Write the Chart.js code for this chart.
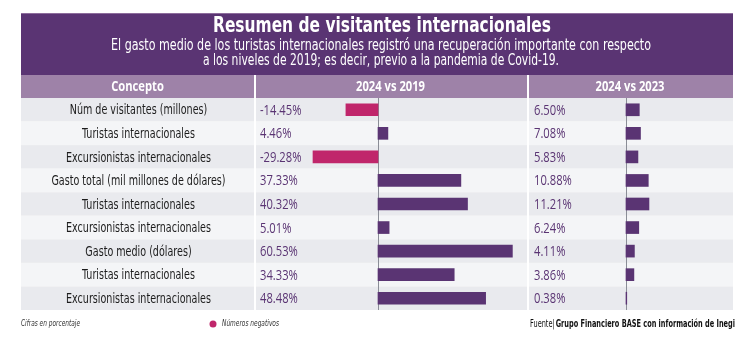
<!DOCTYPE html>
<html>
<head>
<meta charset="utf-8">
<script src="https://cdn.jsdelivr.net/npm/chart.js@4"></script>
<style>
  html, body { margin: 0; padding: 0; background: #fff; }
  #wrap { width: 750px; height: 339px; }
</style>
</head>
<body>
<div id="wrap"><canvas id="myChart" width="750" height="339"></canvas></div>
<script>
const concepts = [
  'Núm de visitantes (millones)',
  'Turistas internacionales',
  'Excursionistas internacionales',
  'Gasto total (mil millones de dólares)',
  'Turistas internacionales',
  'Excursionistas internacionales',
  'Gasto medio (dólares)',
  'Turistas internacionales',
  'Excursionistas internacionales'
];
const vs2019 = [-14.45, 4.46, -29.28, 37.33, 40.32, 5.01, 60.53, 34.33, 48.48];
const vs2023 = [6.50, 7.08, 5.83, 10.88, 11.21, 6.24, 4.11, 3.86, 0.38];
const headers = ['Concepto', '2024 vs 2019', '2024 vs 2023'];

const title = 'Resumen de visitantes internacionales';
const subtitle = [
  'El gasto medio de los turistas internacionales registró una recuperación importante con respecto',
  'a los niveles de 2019; es decir, previo a la pandemia de Covid-19.'
];

const PURPLE = '#5a3473';
const MAGENTA = '#c0266b';
const NARROW = '"DejaVu Sans Condensed", "Liberation Sans", sans-serif';

const colorFor = v => v < 0 ? MAGENTA : PURPLE;

// table geometry
const T = { left: 21, right: 733, bannerTop: 13, headTop: 75, bodyTop: 98, bodyBottom: 310, col1: 254, col2: 527 };

const fmt = v => v.toFixed(2) + '%';

// draw text squeezed horizontally (the original uses a condensed face)
function squeezed(c, text, x, y, k) {
  const w = c.measureText(text).width;
  c.fillText(text, x, y, w * k);
}

const tablePlugin = {
  id: 'table',
  beforeDraw(chart) {
    const c = chart.ctx;
    const y = chart.scales.y;
    c.save();
    c.fillStyle = '#fff';
    c.fillRect(0, 0, chart.width, chart.height);

    // banner
    c.fillStyle = PURPLE;
    c.fillRect(T.left, T.bannerTop, T.right - T.left, T.headTop - T.bannerTop);
    c.fillStyle = '#8d6c9c';
    c.fillRect(T.left, T.bannerTop, T.right - T.left, 1);
    c.fillStyle = '#fff';
    c.textAlign = 'center';
    c.textBaseline = 'middle';
    c.font = 'bold 22px ' + NARROW;
    c.fillText(title, 382, 26, 338);
    c.font = '15px ' + NARROW;
    c.fillText(subtitle[0], 381, 46, 540);
    c.fillText(subtitle[1], 381, 61, 356);

    // header row
    c.fillStyle = '#9e82a8';
    c.fillRect(T.left, T.headTop, T.right - T.left, T.bodyTop - T.headTop);
    c.fillStyle = '#fff';
    c.font = 'bold 14px "Open Sans", sans-serif';
    squeezed(c, headers[0], (T.left + T.col1) / 2, 87, 0.8);
    squeezed(c, headers[1], (T.col1 + T.col2) / 2, 87, 0.8);
    squeezed(c, headers[2], (T.col2 + T.right) / 2, 87, 0.8);

    // body rows
    const h = (T.bodyBottom - T.bodyTop) / concepts.length;
    concepts.forEach((_, i) => {
      const cy = y.getPixelForValue(i);
      c.fillStyle = i % 2 === 0 ? '#e9eaee' : '#f4f5f7';
      c.fillRect(T.left, cy - h / 2, T.right - T.left, h);
    });

    // column separators
    c.fillStyle = '#fff';
    c.fillRect(T.col1, T.headTop, 2, T.bodyBottom - T.headTop);
    c.fillRect(T.col2, T.headTop, 2, T.bodyBottom - T.headTop);
    c.restore();
  },
  beforeDatasetsDraw(chart) {
    const c = chart.ctx;
    c.save();
    c.strokeStyle = '#8a8d96';
    c.lineWidth = 1;
    ['x', 'x2'].forEach(id => {
      const px = Math.round(chart.scales[id].getPixelForValue(0)) + 0.5;
      c.beginPath();
      c.moveTo(px, T.bodyTop);
      c.lineTo(px, T.bodyBottom);
      c.stroke();
    });
    c.restore();
  },
  afterDraw(chart) {
    const c = chart.ctx;
    const y = chart.scales.y;
    c.save();
    c.textBaseline = 'middle';
    concepts.forEach((name, i) => {
      const cy = y.getPixelForValue(i) + 1;
      c.textAlign = 'center';
      c.fillStyle = '#1c1c1c';
      c.font = '14px ' + NARROW;
      squeezed(c, name, (T.left + T.col1) / 2 + 1, cy, 0.76);
      c.textAlign = 'left';
      c.fillStyle = PURPLE;
      c.font = '14px "Open Sans", sans-serif';
      squeezed(c, fmt(vs2019[i]), 260, cy, 0.8);
      squeezed(c, fmt(vs2023[i]), 534, cy, 0.8);
    });

    // footnotes
    c.fillStyle = '#333';
    c.font = 'italic 9px ' + NARROW;
    c.textAlign = 'left';
    c.fillText('Cifras en porcentaje', 21, 324, 59);
    c.fillText('Números negativos', 222, 324, 57);
    c.fillStyle = MAGENTA;
    c.beginPath();
    c.arc(213, 324, 3.5, 0, Math.PI * 2);
    c.fill();

    const boldPart = 'Grupo Financiero BASE con información de Inegi';
    const k = 0.73;
    c.font = 'bold 10px ' + NARROW;
    const wb = c.measureText(boldPart).width * k;
    c.fillStyle = '#111';
    c.textAlign = 'right';
    c.fillText(boldPart, 735, 324, wb);
    c.font = '10px ' + NARROW;
    squeezed(c, 'Fuente|', 735 - wb - 1, 324, k);
    c.restore();
  }
};

new Chart(document.getElementById('myChart'), {
  type: 'bar',
  data: {
    labels: concepts,
    datasets: [
      {
        label: '2024 vs 2019',
        data: vs2019,
        xAxisID: 'x',
        grouped: false,
        barThickness: 12,
        backgroundColor: vs2019.map(colorFor)
      },
      {
        label: '2024 vs 2023',
        data: vs2023,
        xAxisID: 'x2',
        grouped: false,
        barThickness: 12,
        backgroundColor: vs2023.map(colorFor)
      }
    ]
  },
  options: {
    indexAxis: 'y',
    responsive: false,
    animation: false,
    maintainAspectRatio: false,
    layout: { padding: { top: T.bodyTop, bottom: 339 - T.bodyBottom, left: T.left, right: 750 - T.right } },
    plugins: { legend: { display: false }, tooltip: { enabled: false } },
    scales: {
      x: { display: false, min: -160.8, max: 159.9 },
      x2: { display: false, min: -295.1, max: 52.2 },
      y: { display: false }
    }
  },
  plugins: [tablePlugin]
});
</script>
</body>
</html>
